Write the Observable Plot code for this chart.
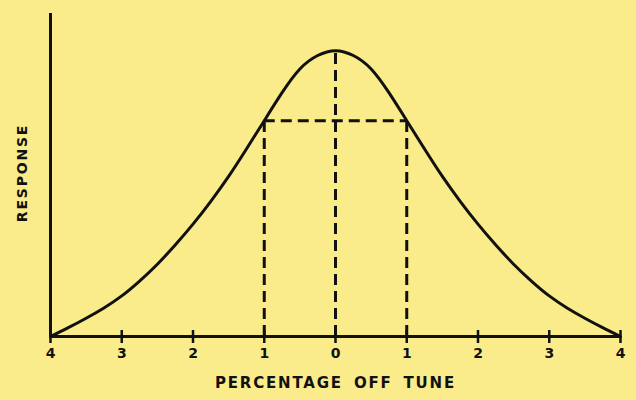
<!DOCTYPE html>
<html>
<head>
<meta charset="utf-8">
<script src="https://cdn.jsdelivr.net/npm/d3@7"></script>
<script src="https://cdn.jsdelivr.net/npm/@observablehq/plot@0.6"></script>
<style>
  html, body { margin: 0; padding: 0; background: #FAEC8A; }
  #chart svg { display: block; }
</style>
</head>
<body>
<div id="chart"></div>
<script>
// Percentage off tune (negative = below tune)
const offTune = [-4, -3.75, -3.5, -3.25, -3, -2.75, -2.5, -2.25, -2, -1.75, -1.5, -1.25, -1, -0.75, -0.5, -0.25, 0,
                 0.25, 0.5, 0.75, 1, 1.25, 1.5, 1.75, 2, 2.25, 2.5, 2.75, 3, 3.25, 3.5, 3.75, 4];
// Relative response (peak = 100)
const response = [0, 3.1, 6.4, 10, 14.2, 19.4, 25.3, 32, 39.3, 47.3, 56, 65.6, 75.5, 85.3, 93.6, 98.3, 100,
                  98.3, 93.6, 85.3, 75.5, 65.6, 56, 47.3, 39.3, 32, 25.3, 19.4, 14.2, 10, 6.4, 3.1, 0];
// Tick values on the x axis (labels show magnitude only)
const xTicks = [-4, -3, -2, -1, 0, 1, 2, 3, 4];
// Dashed marker positions
const markerX = [-1, 0, 1];
const xLabel = "PERCENTAGE OFF TUNE";
const yLabel = "RESPONSE";

const curve = offTune.map((x, i) => ({x, y: response[i]}));
const respAt = x => response[offTune.indexOf(x)];
const markers = markerX.map(x => ({x, y: respAt(x)}));
const bandLevel = respAt(1);

const ink = "#111";
const font = "'DejaVu Sans', 'Liberation Sans', sans-serif";

const chart = Plot.plot({
  width: 636,
  height: 400,
  marginLeft: 50,
  marginRight: 16,
  marginTop: 13,
  marginBottom: 64,
  style: {background: "#FAEC8A", fontFamily: font, color: ink},
  x: {domain: [-4, 4]},
  y: {domain: [0, 113]},
  marks: [
    // axes lines
    Plot.ruleX([-4], {stroke: ink, strokeWidth: 3}),
    Plot.ruleY([0], {stroke: ink, strokeWidth: 3}),
    Plot.axisX({
      ticks: xTicks,
      tickFormat: d => Math.abs(d),
      tickSize: 13,
      tickPadding: 5,
      dy: -6,
      strokeWidth: 2.5,
      stroke: ink,
      fill: ink,
      fontSize: 14,
      fontWeight: "bold",
      label: null
    }),
    Plot.axisY({ticks: [], label: null}),
    // dashed markers
    Plot.ruleX(markers, {x: "x", y1: 0, y2: "y", stroke: ink, strokeWidth: 3, strokeDasharray: "11,6"}),
    Plot.ruleY([bandLevel], {x1: -1, x2: 1, stroke: ink, strokeWidth: 3, strokeDasharray: "11,6"}),
    // response curve
    Plot.line(curve, {x: "x", y: "y", curve: "natural", stroke: ink, strokeWidth: 3}),
    // axis titles
    Plot.text([xLabel], {frameAnchor: "bottom", dy: 47, text: d => d, fontSize: 15, fontWeight: "bold", fill: ink, lineAnchor: "middle"}),
    Plot.text([yLabel], {frameAnchor: "left", dx: -28, dy: -2, rotate: -90, textAnchor: "middle", text: d => d, fontSize: 14, fontWeight: "bold", fill: ink, lineAnchor: "middle"})
  ]
});

d3.select(chart).selectAll("text").filter(function() {
  const t = this.textContent;
  return t === xLabel || t === yLabel;
}).style("letter-spacing", "1.8px").style("word-spacing", "4px");

document.getElementById("chart").appendChild(chart);
</script>
</body>
</html>
